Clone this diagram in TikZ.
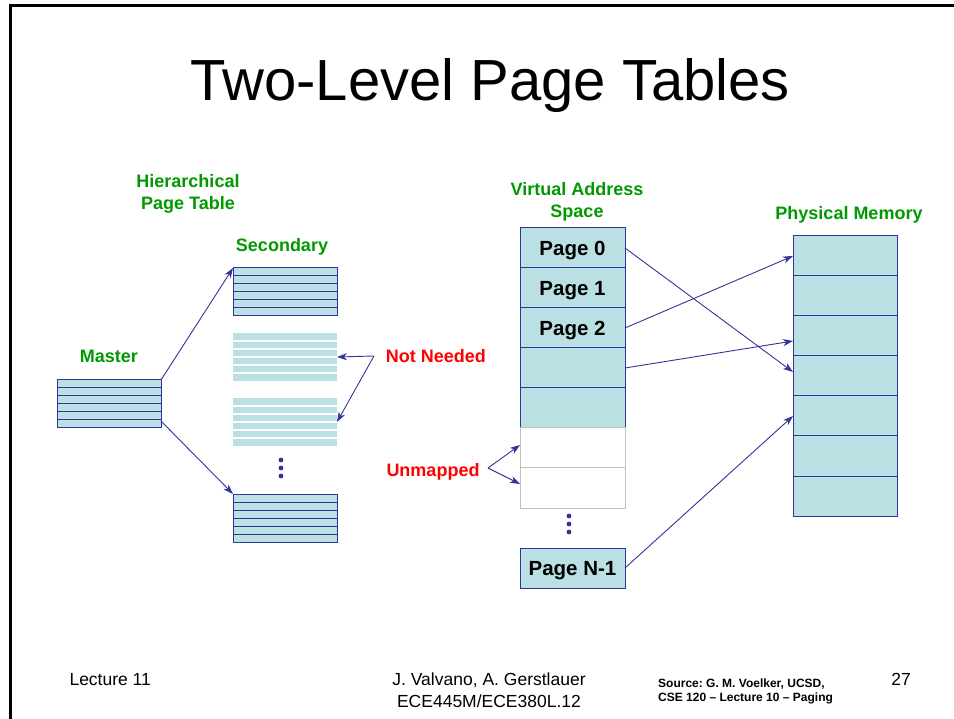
\documentclass[tikz,border=0pt]{standalone}
\usepackage{fontspec}
\setmainfont{Liberation Sans}
\usepackage{xcolor}
\usepackage{tikz}
\usetikzlibrary{positioning, arrows.meta}
\frenchspacing
\definecolor{lineblue}{RGB}{51,51,153}
\definecolor{tablefill}{RGB}{187,224,227}
\definecolor{labelgreen}{RGB}{0,153,0}
\tikzstyle{heading} = [font=\bfseries\fontsize{18}{22}\selectfont, text=labelgreen, align=center]
\tikzstyle{remark} = [font=\bfseries\fontsize{18}{22}\selectfont, text=red]
\tikzstyle{footer} = [font=\fontsize{17.5}{22}\selectfont, align=center]
\tikzstyle{table} = [rectangle, draw=lineblue, fill=tablefill, line width=1pt, minimum width=104pt, minimum height=48pt, inner sep=0pt, outer sep=0pt,
  path picture={\foreach \k in {1,...,5} \draw[lineblue, line width=1pt] ([yshift=-\k*8pt]path picture bounding box.north west) -- ([yshift=-\k*8pt]path picture bounding box.north east);}]
\tikzstyle{ghost} = [rectangle, fill=tablefill, minimum width=104pt, minimum height=48pt, inner sep=0pt, outer sep=0pt,
  path picture={\foreach \k in {1,...,5} \draw[white, line width=1.2pt] ([yshift=-\k*8pt]path picture bounding box.north west) -- ([yshift=-\k*8pt]path picture bounding box.north east);}]
\tikzstyle{page} = [rectangle, draw=lineblue, fill=tablefill, line width=1pt, minimum width=105pt, minimum height=40pt, inner sep=0pt, outer sep=0pt, text depth=0pt, font=\bfseries\fontsize{20.5}{24}\selectfont]
\tikzstyle{unused} = [rectangle, draw=black!25, fill=white, line width=1pt, minimum width=105pt, minimum height=40pt, inner sep=0pt, outer sep=0pt]
\tikzstyle{frame} = [rectangle, draw=lineblue, fill=tablefill, line width=1pt, minimum width=104pt, minimum height=40pt, inner sep=0pt, outer sep=0pt]
\tikzstyle{link} = [draw=lineblue, line width=0.9pt, -{Stealth[length=10pt, width=7pt, inset=3pt]}]

\begin{document}
\begin{tikzpicture}[x=1pt, y=-1pt]
		\useasboundingbox (0,0) rectangle (954,719);
		\draw[line width=2.4pt] (10.5,719) -- (10.5,5.5) -- (954,5.5);
		\node (Title)[anchor=base, font=\fontsize{58}{64}\selectfont] at (490,101) {Two-Level Page Tables};
		% hierarchical page table
		\node (Hierarchy)[heading, anchor=base] at (188,210) {Hierarchical\\Page Table};
		\node (Secondary)[heading, anchor=base] at (282,252) {Secondary};
		\node (Master Label)[heading, anchor=base] at (109,363) {Master};
		\node (Master)[table, anchor=north west] at (57,380) {};
		\node (Sec1)[table, anchor=north west] at (233,268) {};
		\node (Sec2)[ghost, below = 17pt of Sec1] {};
		\node (Sec3)[ghost, below = 17pt of Sec2] {};
		\node (Sec4)[table, below = 48pt of Sec3] {};
		\foreach \y in {460,468,476} \fill[lineblue] (281,\y) circle (2.4);
		\draw [link] (Master.north east) -- (Sec1.north west);
		\draw [link] ([yshift=7pt]Master.south east) -- (Sec4.north west);
		\node (Not Needed)[remark, anchor=base] at (436,363) {Not Needed};
		\coordinate (Needed Tip) at (374,356);
		\draw [link] (Needed Tip) -- (Sec2.east);
		\draw [link] (Needed Tip) -- (Sec3.east);
		\node (Unmapped)[remark, anchor=base] at (433,476) {Unmapped};
		\coordinate (Unmapped Tip) at (488,468);
		% virtual address space
		\node (Virtual)[heading, anchor=base] at (577,218) {Virtual Address\\Space};
		\node (V0)[page, anchor=north west] at (520,228) {Page 0};
		\node (V1)[page, below = 0pt of V0] {Page 1};
		\node (V2)[page, below = 0pt of V1] {Page 2};
		\node (V3)[page, below = 0pt of V2] {};
		\node (V4)[page, below = 0pt of V3] {};
		\node (V5)[unused, below = 0pt of V4] {};
		\node (V6)[unused, below = 0pt of V5] {};
		\node (VN)[page, below = 40pt of V6] {Page N-1};
		\foreach \y in {516,524,532} \fill[lineblue] (569,\y) circle (2.4);
		\draw [link] (Unmapped Tip) -- ([yshift=3pt]V5.west);
		\draw [link] (Unmapped Tip) -- ([yshift=4pt]V6.west);
		% physical memory
		\node (Physical)[heading, anchor=base] at (849,220) {Physical Memory};
		\node (P0)[frame, anchor=north west] at (793,236) {};
		\foreach \i [count=\j from 0] in {1,...,6}
			\node (P\i)[frame, below = 0pt of P\j] {};
		\draw [link] (V0.east) -- ([yshift=4pt]P3.west);
		\draw [link] (V2.east) -- (P0.west);
		\draw [link] (V3.east) -- ([yshift=-5pt]P2.west);
		\draw [link] (VN.east) -- (P4.west);
		% footer
		\node (Lecture)[footer, anchor=base west] at (66,685) {Lecture 11};
		\node (Authors)[footer, anchor=base] at (489,707) {J. Valvano, A. Gerstlauer\\ECE445M/ECE380L.12};
		\node (Source)[anchor=base west, align=left, inner sep=0pt, font=\bfseries\fontsize{12}{13.5}\selectfont] at (658,701) {Source: G. M. Voelker, UCSD,\\CSE 120 -- Lecture 10 -- Paging};
		\node (Slide)[footer, anchor=base] at (901,685) {27};
	\end{tikzpicture}
\end{document}
